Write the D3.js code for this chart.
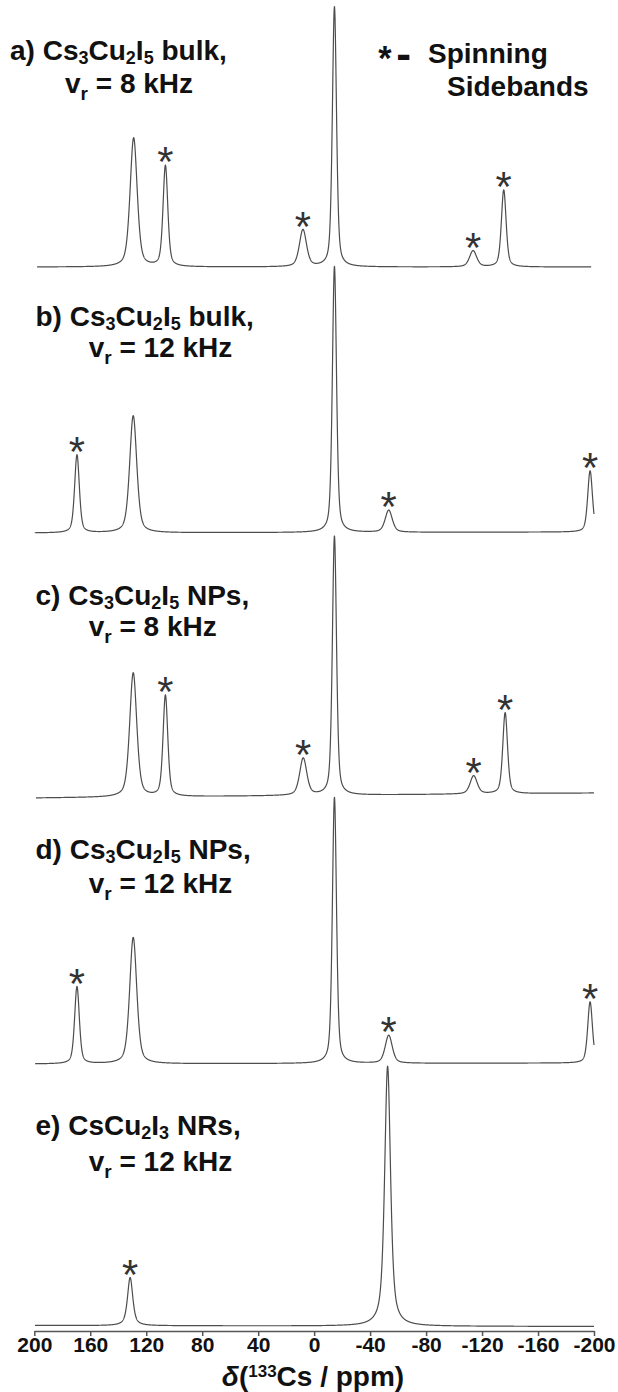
<!DOCTYPE html>
<html><head><meta charset="utf-8">
<script src="https://cdn.jsdelivr.net/npm/d3@7"></script>
<style>html,body{margin:0;padding:0;background:#fff;} svg{display:block;}</style>
</head><body>
<svg id="chart" width="618" height="1392"></svg>
<script>
// ================= DATA =================
const axisTicks = [200,160,120,80,40,0,-40,-80,-120,-160,-200];
const axisDomain = [200,-200];
const panelLetters = ['a','b','c','d','e'];
const panelFormulas = ['Cs_3Cu_2I_5','Cs_3Cu_2I_5','Cs_3Cu_2I_5','Cs_3Cu_2I_5','CsCu_2I_3'];
const panelForms = ['bulk','bulk','NPs','NPs','NRs'];
const spinRates = [8,12,8,12,12]; // kHz
const legendLines = ['Spinning','Sidebands'];

// peaks: chemical shift (ppm), relative intensity (main peak = 100), FWHM (ppm), sideband flag
const shiftsA   = [129, 106.3, 8, -14.5, -113.6, -135.5];
const intensA   = [49.6, 38.8, 14.2, 100, 6.2, 29.6];
const widthsA   = [6, 4, 6, 3.5, 6, 4];
const sidebandA = [0, 1, 1, 0, 1, 1];

const shiftsB   = [169.5, 129.3, -14.5, -53.3, -197.2];
const intensB   = [29.3, 44, 100, 8.3, 23];
const widthsB   = [4, 6, 3.5, 6, 4];
const sidebandB = [1, 0, 0, 1, 1];

const shiftsC   = [129.3, 106.3, 7.8, -14.5, -114, -136.5];
const intensC   = [47.9, 39, 14.3, 100, 7, 31.3];
const widthsC   = [6, 4, 6, 3.5, 6, 4];
const sidebandC = [0, 1, 1, 0, 1, 1];

const shiftsD   = [169.5, 129.3, -14.5, -53.3, -197.2];
const intensD   = [29, 47.5, 100, 10.5, 23];
const widthsD   = [4, 6, 3.5, 6, 4];
const sidebandD = [1, 0, 0, 1, 1];

const shiftsE   = [131.5, -52.5];
const intensE   = [18.5, 100];
const widthsE   = [4.5, 5];
const sidebandE = [1, 0];

// ================= LAYOUT =================
const FONT = '"Liberation Sans", Arial, Helvetica, sans-serif';
const spectra = [
  {shifts: shiftsA, intens: intensA, widths: widthsA, sb: sidebandA},
  {shifts: shiftsB, intens: intensB, widths: widthsB, sb: sidebandB},
  {shifts: shiftsC, intens: intensC, widths: widthsC, sb: sidebandC},
  {shifts: shiftsD, intens: intensD, widths: widthsD, sb: sidebandD},
  {shifts: shiftsE, intens: intensE, widths: widthsE, sb: sidebandE}
];
const layout = [
  {baseL:267,    baseR:267,    full:260, from:198,   to:-198, eta:0.45, lx1:10,   ly1:60,   lx2:65,   ly2:93},
  {baseL:533,    baseR:532,    full:266, from:199.7, to:-200, eta:0.45, lx1:35.5, ly1:326,  lx2:88.7, ly2:357},
  {baseL:798,    baseR:793,    full:259, from:198.8, to:-200, eta:0.45, lx1:35.5, ly1:605,  lx2:88.7, ly2:636},
  {baseL:1064,   baseR:1063,   full:266, from:199.5, to:-200, eta:0.45, lx1:35.5, ly1:859,  lx2:88.7, ly2:893},
  {baseL:1325.5, baseR:1326.5, full:260, from:199.5, to:-200, eta:0.65, lx1:35.5, ly1:1135, lx2:88.7, ly2:1171}
];

const svg = d3.select('#chart');
const x = d3.scaleLinear().domain(axisDomain).range([34.3, 594]);

// ink-metric based glyph placement (for asterisks)
const mctx = document.createElement('canvas').getContext('2d');
function ink(ch, weight){
  mctx.font = `${weight} 100px "Liberation Sans"`;
  const m = mctx.measureText(ch);
  return {l:m.actualBoundingBoxLeft, r:m.actualBoundingBoxRight, a:m.actualBoundingBoxAscent, d:m.actualBoundingBoxDescent};
}
function placeGlyph(g, ch, cx, cy, size, weight, fill, byWidth){
  const m = ink(ch, weight);
  const dim = byWidth ? (m.r + m.l) : (m.a + m.d);
  const k = size / dim;
  const tx = cx - (m.r - m.l) / 2 * k;
  const ty = cy + (m.a - m.d) / 2 * k;
  g.append('text').attr('x', tx).attr('y', ty)
    .attr('font-family', FONT).attr('font-weight', weight)
    .attr('font-size', 100 * k).attr('fill', fill).text(ch);
}

function model(ppm, s, eta){
  let v = 0;
  for (let i = 0; i < s.shifts.length; i++){
    const hw = s.widths[i] / 2;
    const u = (ppm - s.shifts[i]) / hw;
    v += s.intens[i] * (eta / (1 + u*u) + (1 - eta) * Math.exp(-Math.LN2 * u * u));
  }
  return v;
}

const gSpec = svg.append('g');
const gStar = svg.append('g');
spectra.forEach((s, i) => {
  const L = layout[i];
  const yBase = d3.scaleLinear().domain(axisDomain).range([L.baseL, L.baseR]);
  const yInt = d3.scaleLinear().domain([0, 100]).range([0, -L.full]);
  const pts = d3.range(L.from, L.to, -0.1).concat([L.to]).map(p => ({p, v: model(p, s, L.eta)}));
  const line = d3.line().x(d => x(d.p)).y(d => yBase(d.p) + yInt(d.v));
  gSpec.append('path').datum(pts).attr('d', line)
    .attr('fill', 'none').attr('stroke', '#4d4d4d').attr('stroke-width', 1.2)
    .attr('stroke-linejoin', 'round');
  s.shifts.forEach((sh, j) => {
    if (!s.sb[j]) return;
    const top = yBase(sh) + yInt(model(sh, s, L.eta));
    placeGlyph(gStar, '*', x(sh), top - 10, 15, 'normal', '#333', false);
  });
});

// panel labels (two lines in one text element)
const gLab = svg.append('g').attr('font-family', FONT).attr('font-weight', 'bold')
  .attr('font-size', 28).attr('fill', '#111');
panelLetters.forEach((ltr, i) => {
  const L = layout[i];
  const t = gLab.append('text').attr('x', L.lx1).attr('y', L.ly1);
  t.append('tspan').text(`${ltr}) `);
  const parts = panelFormulas[i].split(/_(\d)/);
  let shifted = false;
  parts.forEach((p, k) => {
    if (p === '') return;
    if (k % 2 === 1){
      t.append('tspan').attr('font-size', 18).attr('dy', 3.5).text(p);
      shifted = true;
    } else {
      const ts = t.append('tspan').text(p);
      if (shifted){ ts.attr('dy', -3.5); shifted = false; }
    }
  });
  const tail = t.append('tspan').text(` ${panelForms[i]},`);
  if (shifted) tail.attr('dy', -3.5);
  // second line
  t.append('tspan').attr('x', L.lx2).attr('dy', L.ly2 - L.ly1).text('v');
  t.append('tspan').attr('font-size', 19).attr('dy', 7).text('r');
  t.append('tspan').attr('dy', -7).text(` = ${spinRates[i]} kHz`);
});

// legend
const gLeg = svg.append('g');
placeGlyph(gLeg, '*', 385, 53, 13, 'bold', '#111', false);
placeGlyph(gLeg, '-', 403.5, 57.5, 12, 'bold', '#111', true);
const legText = gLeg.append('text').attr('x', 428).attr('y', 63).attr('font-family', FONT)
  .attr('font-weight', 'bold').attr('font-size', 28).attr('fill', '#111');
legText.append('tspan').text(legendLines[0]);
legText.append('tspan').attr('x', 447).attr('dy', 33).text(legendLines[1]);

// axis
const axisY = 1331;
const gAxis = svg.append('g').attr('transform', `translate(0,${axisY})`)
  .call(d3.axisBottom(x).tickValues(axisTicks).tickSize(5).tickSizeOuter(0).tickFormat(d => String(d)));
gAxis.select('.domain').attr('stroke', '#555').attr('stroke-width', 1.5);
gAxis.selectAll('.tick line').attr('stroke', '#555').attr('stroke-width', 1.5);
gAxis.selectAll('.tick text').attr('y', 21).attr('dy', 0)
  .attr('font-family', FONT).attr('font-weight', 'bold').attr('font-size', 21).attr('fill', '#111');

// axis title
const tt = svg.append('text').attr('x', 313).attr('y', 1386).attr('text-anchor', 'middle')
  .attr('font-family', FONT).attr('font-weight', 'bold').attr('font-size', 28).attr('fill', '#111');
tt.append('tspan').attr('font-style', 'italic').text('δ');
tt.append('tspan').text('(');
tt.append('tspan').attr('font-size', 17).attr('dy', -9).text('133');
tt.append('tspan').attr('dy', 9).text('Cs / ppm)');
</script>
</body></html>
